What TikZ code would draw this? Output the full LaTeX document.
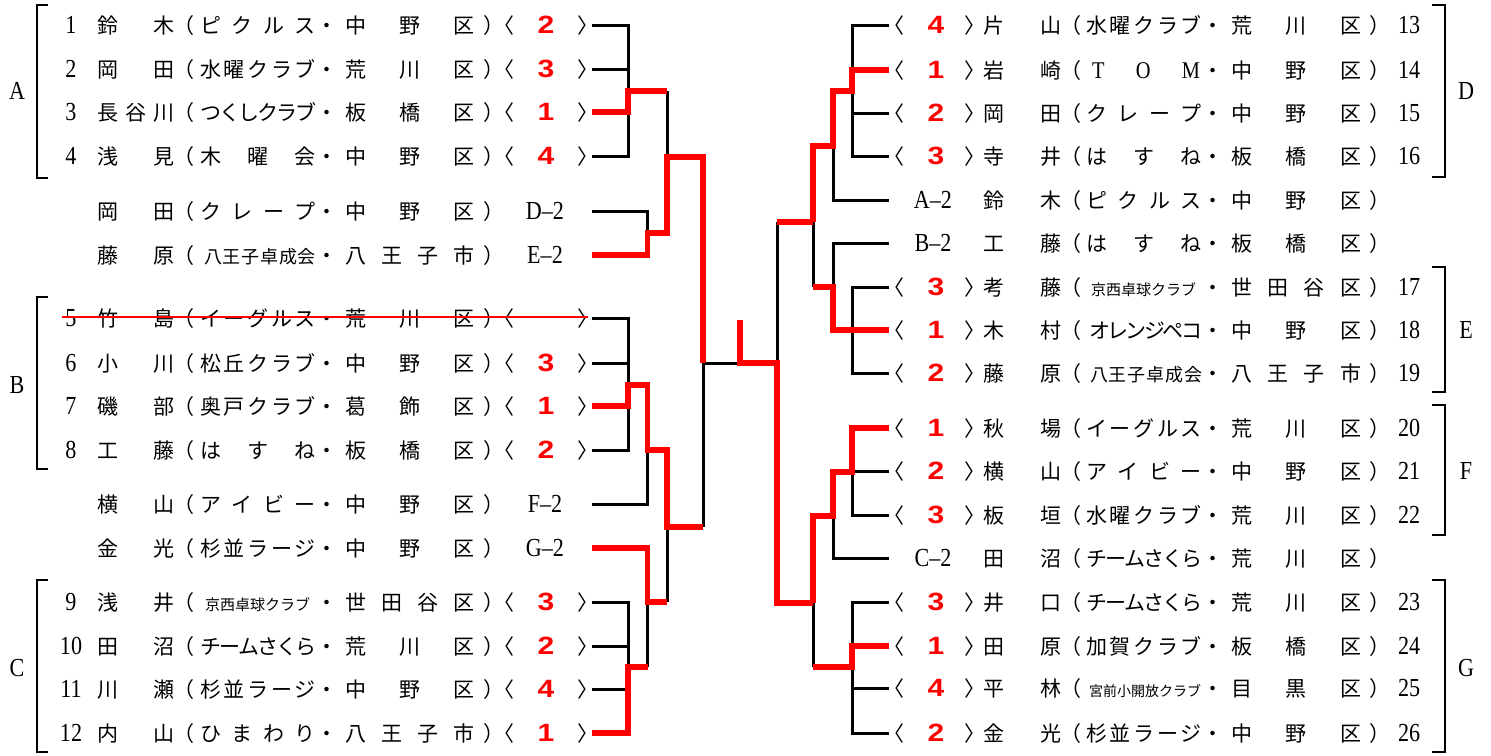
\documentclass[tikz,border=0pt]{standalone}
\usepackage{fontspec}
\newfontfamily\jp{Noto Sans CJK JP}
\newfontfamily\latf[FakeStretch=0.85]{Liberation Serif}
\newfontfamily\scf[FakeStretch=1.2]{Liberation Sans}
\definecolor{rd}{RGB}{255,0,0}
\newcommand\jg{\hskip 0pt plus 1fil minus 1fil}
\newcommand\smf{\fontsize{15}{15}\selectfont}
\newcommand\tnf{\fontsize{14}{14}\selectfont}
\newcommand\mdf{\fontsize{18}{18}\selectfont}
\def\bo{8}
\tikzset{
  jpt/.style={inner sep=0pt, outer sep=0pt, anchor=base west, font=\jp\fontsize{21}{21}\selectfont},
  lat/.style={inner sep=0pt, outer sep=0pt, anchor=base, font=\latf\fontsize{26}{26}\selectfont},
  sco/.style={inner sep=0pt, outer sep=0pt, anchor=base, text=rd, font=\scf\bfseries\fontsize{25}{25}\selectfont},
  grp/.style={inner sep=0pt, outer sep=0pt, font=\latf\fontsize{26}{26}\selectfont},
  bk/.style={draw=black, line width=3pt},
  rl/.style={draw=rd, line width=5.5pt},
  br/.style={draw=black, line width=1.6pt},
}
% left row: id, y, number, name, club, district
\newcommand\Lrow[6]{%
  \node[lat] (#1n) at (71,{#2+\bo}) {#3};
  \node[jpt] (#1m) at (97,{#2+\bo}) {\hbox to 78pt{#4}};
  \node[jpt] (#1p) at (173,{#2+\bo}) {（};
  \node[jpt] (#1c) at (200,{#2+\bo}) {\hbox to 116pt{#5}};
  \node[jpt] (#1d) at (316.5,{#2+\bo}) {・};
  \node[jpt] (#1r) at (345,{#2+\bo}) {\hbox to 130pt{#6}};
  \node[jpt] (#1q) at (483,{#2+\bo}) {）};
}
\newcommand\Lsc[3]{%
  \node[jpt] (#1a) at (493,{#2+\bo}) {〈};
  \node[sco] (#1s) at (546,{#2+\bo}) {#3};
  \node[jpt] (#1b) at (577,{#2+\bo}) {〉};
}
\newcommand\Lcode[3]{\node[lat] (#1s) at (545,{#2+\bo}) {#3};}
% right row: id, y, name, club, district
\newcommand\Rrow[5]{%
  \node[jpt] (#1m) at (983,{#2+\bo}) {\hbox to 78pt{#3}};
  \node[jpt] (#1p) at (1060,{#2+\bo}) {（};
  \node[jpt] (#1c) at (1086,{#2+\bo}) {\hbox to 116pt{#4}};
  \node[jpt] (#1d) at (1202.5,{#2+\bo}) {・};
  \node[jpt] (#1r) at (1231,{#2+\bo}) {\hbox to 130pt{#5}};
  \node[jpt] (#1q) at (1369,{#2+\bo}) {）};
}
\newcommand\Rsc[3]{%
  \node[jpt] (#1a) at (883,{#2+\bo}) {〈};
  \node[sco] (#1s) at (936,{#2+\bo}) {#3};
  \node[jpt] (#1b) at (964,{#2+\bo}) {〉};
}
\newcommand\Rcode[3]{\node[lat] (#1s) at (933,{#2+\bo}) {#3};}
\newcommand\Rnum[3]{\node[lat,anchor=base west] (#1n) at (1398,{#2+\bo}) {#3};}

\begin{document}
\begin{tikzpicture}[x=1pt,y=-1pt]
\path[use as bounding box] (0,0) rectangle (1491,755);

% ---------- left texts ----------
\Lrow{L1}{25}{1}{鈴\jg 木}{ピ\jg ク\jg ル\jg ス}{中\jg 野\jg 区}\Lsc{L1}{25}{2}
\Lrow{L2}{69}{2}{岡\jg 田}{水\jg 曜\jg ク\jg ラ\jg ブ}{荒\jg 川\jg 区}\Lsc{L2}{69}{3}
\Lrow{L3}{112}{3}{長\jg 谷\jg 川}{つ\jg く\jg し\jg ク\jg ラ\jg ブ}{板\jg 橋\jg 区}\Lsc{L3}{112}{1}
\Lrow{L4}{156}{4}{浅\jg 見}{木\jg 曜\jg 会}{中\jg 野\jg 区}\Lsc{L4}{156}{4}
\Lrow{L5}{211}{}{岡\jg 田}{ク\jg レ\jg ー\jg プ}{中\jg 野\jg 区}\Lcode{L5}{211}{D–2}
\Lrow{L6}{255}{}{藤\jg 原}{\hskip4pt\mdf 八\jg 王\jg 子\jg 卓\jg 成\jg 会}{八\jg 王\jg 子\jg 市}\Lcode{L6}{255}{E–2}
\Lrow{L7}{318}{5}{竹\jg 島}{イ\jg ー\jg グ\jg ル\jg ス}{荒\jg 川\jg 区}\Lsc{L7}{318}{}
\Lrow{L8}{363}{6}{小\jg 川}{松\jg 丘\jg ク\jg ラ\jg ブ}{中\jg 野\jg 区}\Lsc{L8}{363}{3}
\Lrow{L9}{406}{7}{磯\jg 部}{奥\jg 戸\jg ク\jg ラ\jg ブ}{葛\jg 飾\jg 区}\Lsc{L9}{406}{1}
\Lrow{L10}{450}{8}{工\jg 藤}{は\jg す\jg ね}{板\jg 橋\jg 区}\Lsc{L10}{450}{2}
\Lrow{L11}{504}{}{横\jg 山}{ア\jg イ\jg ビ\jg ー}{中\jg 野\jg 区}\Lcode{L11}{504}{F–2}
\Lrow{L12}{548}{}{金\jg 光}{杉\jg 並\jg ラ\jg ー\jg ジ}{中\jg 野\jg 区}\Lcode{L12}{548}{G–2}
\Lrow{L13}{602}{9}{浅\jg 井}{\hskip5pt\smf 京西卓球クラブ\hskip 0pt plus 1fil}{世\jg 田\jg 谷\jg 区}\Lsc{L13}{602}{3}
\Lrow{L14}{646}{10}{田\jg 沼}{チ\jg ー\jg ム\jg さ\jg く\jg ら}{荒\jg 川\jg 区}\Lsc{L14}{646}{2}
\Lrow{L15}{689}{11}{川\jg 瀬}{杉\jg 並\jg ラ\jg ー\jg ジ}{中\jg 野\jg 区}\Lsc{L15}{689}{4}
\Lrow{L16}{733}{12}{内\jg 山}{ひ\jg ま\jg わ\jg り}{八\jg 王\jg 子\jg 市}\Lsc{L16}{733}{1}

% ---------- right texts ----------
\Rsc{R1}{25}{4}\Rrow{R1}{25}{片\jg 山}{水\jg 曜\jg ク\jg ラ\jg ブ}{荒\jg 川\jg 区}\Rnum{R1}{25}{13}
\Rsc{R2}{70}{1}\Rrow{R2}{70}{岩\jg 崎}{\latf\fontsize{24}{24}\selectfont\hskip6pt T\jg O\jg M\hskip2pt}{中\jg 野\jg 区}\Rnum{R2}{70}{14}
\Rsc{R3}{113}{2}\Rrow{R3}{113}{岡\jg 田}{ク\jg レ\jg ー\jg プ}{中\jg 野\jg 区}\Rnum{R3}{113}{15}
\Rsc{R4}{156}{3}\Rrow{R4}{156}{寺\jg 井}{は\jg す\jg ね}{板\jg 橋\jg 区}\Rnum{R4}{156}{16}
\Rcode{R5}{200}{A–2}\Rrow{R5}{200}{鈴\jg 木}{ピ\jg ク\jg ル\jg ス}{中\jg 野\jg 区}
\Rcode{R6}{243}{B–2}\Rrow{R6}{243}{工\jg 藤}{は\jg す\jg ね}{板\jg 橋\jg 区}
\Rsc{R7}{287}{3}\Rrow{R7}{287}{考\jg 藤}{\hskip5pt\smf 京西卓球クラブ\hskip 0pt plus 1fil}{世\jg 田\jg 谷\jg 区}\Rnum{R7}{287}{17}
\Rsc{R8}{330}{1}\Rrow{R8}{330}{木\jg 村}{\hskip3pt オ\jg レ\jg ン\jg ジ\jg ペ\jg コ}{中\jg 野\jg 区}\Rnum{R8}{330}{18}
\Rsc{R9}{373}{2}\Rrow{R9}{373}{藤\jg 原}{\hskip4pt\mdf 八\jg 王\jg 子\jg 卓\jg 成\jg 会}{八\jg 王\jg 子\jg 市}\Rnum{R9}{373}{19}
\Rsc{R10}{428}{1}\Rrow{R10}{428}{秋\jg 場}{イ\jg ー\jg グ\jg ル\jg ス}{荒\jg 川\jg 区}\Rnum{R10}{428}{20}
\Rsc{R11}{471}{2}\Rrow{R11}{471}{横\jg 山}{ア\jg イ\jg ビ\jg ー}{中\jg 野\jg 区}\Rnum{R11}{471}{21}
\Rsc{R12}{515}{3}\Rrow{R12}{515}{板\jg 垣}{水\jg 曜\jg ク\jg ラ\jg ブ}{荒\jg 川\jg 区}\Rnum{R12}{515}{22}
\Rcode{R13}{558}{C–2}\Rrow{R13}{558}{田\jg 沼}{チ\jg ー\jg ム\jg さ\jg く\jg ら}{荒\jg 川\jg 区}
\Rsc{R14}{602}{3}\Rrow{R14}{602}{井\jg 口}{チ\jg ー\jg ム\jg さ\jg く\jg ら}{荒\jg 川\jg 区}\Rnum{R14}{602}{23}
\Rsc{R15}{646}{1}\Rrow{R15}{646}{田\jg 原}{加\jg 賀\jg ク\jg ラ\jg ブ}{板\jg 橋\jg 区}\Rnum{R15}{646}{24}
\Rsc{R16}{688}{4}\Rrow{R16}{688}{平\jg 林}{\hskip3pt\tnf 宮前小開放クラブ\hskip 0pt plus 1fil}{目\jg 黒\jg 区}\Rnum{R16}{688}{25}
\Rsc{R17}{733}{2}\Rrow{R17}{733}{金\jg 光}{杉\jg 並\jg ラ\jg ー\jg ジ}{中\jg 野\jg 区}\Rnum{R17}{733}{26}

% strike-through of withdrawn entry
\draw[rd, line width=1.3pt] (62,317) -- (588,317);

% ---------- group brackets ----------
\node[grp] (gA) at (17,91) {A};
\node[grp] (gB) at (17,385) {B};
\node[grp] (gC) at (17,668) {C};
\node[grp] (gD) at (1466,91) {D};
\node[grp] (gE) at (1466,330) {E};
\node[grp] (gF) at (1466,471) {F};
\node[grp] (gG) at (1466,668) {G};
\draw[br] (48,5) -- (37,5) -- (37,178) -- (48,178);
\draw[br] (48,297) -- (37,297) -- (37,469) -- (48,469);
\draw[br] (48,580) -- (37,580) -- (37,752) -- (48,752);
\draw[br] (1432,5) -- (1445,5) -- (1445,177) -- (1432,177);
\draw[br] (1432,267) -- (1445,267) -- (1445,392) -- (1432,392);
\draw[br] (1432,405) -- (1445,405) -- (1445,535) -- (1432,535);
\draw[br] (1432,580) -- (1445,580) -- (1445,752) -- (1432,752);

% ---------- bracket coordinates ----------
\foreach \i/\y in {1/25,2/69,3/112,4/156,5/211,6/255,7/318,8/363,9/406,10/450,11/504,12/548,13/602,14/646,15/689,16/733}
  \coordinate (L\i e) at (592,\y);
\foreach \i/\y in {1/25,2/70,3/113,4/156,5/200,6/243,7/287,8/330,9/373,10/428,11/471,12/515,13/558,14/602,15/646,16/688,17/733}
  \coordinate (R\i e) at (889,\y);
\coordinate (xa) at (628,0); \coordinate (xb) at (647.5,0);
\coordinate (xc) at (667,0); \coordinate (xd) at (703,0);
\coordinate (xp) at (852,0); \coordinate (xq) at (833,0); \coordinate (xr) at (813,0);
\coordinate (jA) at (628,91);   \coordinate (jDE) at (647.5,233);
\coordinate (jAD) at (667,157); \coordinate (jB) at (628,385);
\coordinate (jBF) at (647.5,450); \coordinate (jC) at (628,667);
\coordinate (jGC) at (647.5,602); \coordinate (jLow) at (667,527);
\coordinate (jL) at (703,363);  \coordinate (jS) at (740,363);
\coordinate (sTop) at (740,320); \coordinate (jM) at (777,363);
\coordinate (jRT) at (777,222); \coordinate (jRB) at (777,603);
\coordinate (jD) at (852,91);   \coordinate (jDA) at (833,146);
\coordinate (jUp) at (813,222); \coordinate (jBE) at (833,287);
\coordinate (jF) at (852,472);  \coordinate (jFC) at (833,516);
\coordinate (jG) at (852,667);  \coordinate (jLo) at (813,603);

% ---------- black lines ----------
\draw[bk] (L1e) -| (xa |- L4e) -- (L4e);
\draw[bk] (L2e) -- (L2e -| xa);
\draw[bk] (L5e) -| (jDE);
\draw[bk] (jA -| xc) -- (jAD);
\draw[bk] (L7e) -| (xa |- L10e) -- (L10e);
\draw[bk] (L8e) -- (L8e -| xa);
\draw[bk] (L11e) -| (jBF);
\draw[bk] (jLow) -- (jGC -| xc);
\draw[bk] (L13e) -| (jC);
\draw[bk] (L14e) -- (L14e -| xa);
\draw[bk] (L15e) -- (L15e -| xa);
\draw[bk] (jGC) -- (jGC |- jC);
\draw[bk] (jL) -- (jL |- jLow);
\draw[bk] (jL) -- (jS);
\draw[bk] (jRT) -- (jM);
\draw[bk] (R1e) -| (xp |- R4e) -- (R4e);
\draw[bk] (R3e) -- (R3e -| xp);
\draw[bk] (jDA) -- (jDA |- R5e) -- (R5e);
\draw[bk] (jUp) -- (jUp |- jBE);
\draw[bk] (R6e) -| (jBE);
\draw[bk] (R7e) -| (xp |- R9e) -- (R9e);
\draw[bk] (R11e) -- (R11e -| xp) -- (xp |- R12e) -- (R12e);
\draw[bk] (jFC) -- (jFC |- R13e) -- (R13e);
\draw[bk] (R14e) -| (xp |- R17e) -- (R17e);
\draw[bk] (R16e) -- (R16e -| xp);
\draw[bk] (jLo) -- (jLo |- jG);

% ---------- red (winner) lines ----------
\draw[rl] (L3e) -| (jA) -- (jA -| xc);
\draw[rl] (L6e) -| (jDE) -- (jDE -| xc) -- (jAD) -- (jAD -| xd) -- (jL);
\draw[rl] (L9e) -| (jB) -- (jB -| xb) -- (jBF) -- (jBF -| xc) -- (jLow) -- (jLow -| xd);
\draw[rl] (L12e) -| (jGC) -- (jGC -| xc);
\draw[rl] (L16e) -| (jC) -- (jC -| xb);
\draw[rl] (sTop) -- (jS) -- (jM) -- (jRB) -- (jRB -| xr);
\draw[rl] (jRT) -- (jRT -| xr);
\draw[rl] (R2e) -| (jD) -- (jD -| xq) -- (jDA) -- (jDA -| xr) -- (jUp);
\draw[rl] (R8e) -| (jBE) -- (jBE -| xr);
\draw[rl] (R10e) -| (jF) -- (jF -| xq) -- (jFC) -- (jFC -| xr) -- (jLo);
\draw[rl] (R15e) -| (jG) -- (jG -| xr);
\end{tikzpicture}
\end{document}
